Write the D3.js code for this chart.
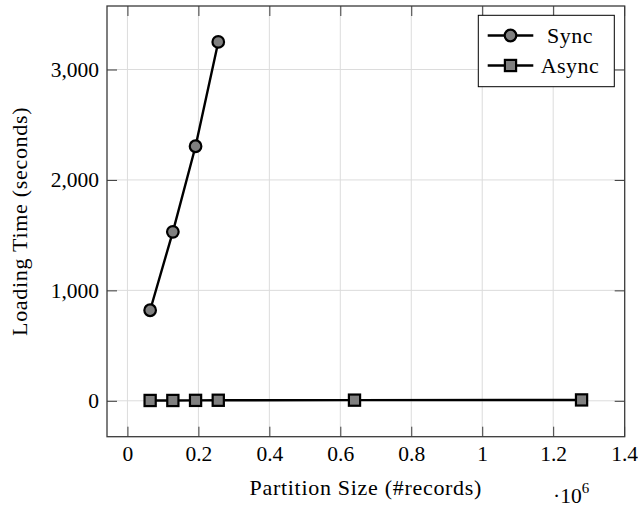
<!DOCTYPE html>
<html>
<head>
<meta charset="utf-8">
<script src="https://cdn.jsdelivr.net/npm/d3@7"></script>
<style>
  html, body { margin: 0; padding: 0; background: #fff; }
  svg { display: block; }
  text { font-family: "Liberation Serif", "DejaVu Serif", serif; fill: #000; }
</style>
</head>
<body>
<svg id="chart" width="638" height="508"></svg>
<script>
// Partition sizes (records) and loading times (seconds)
const syncSizes = [64000, 128000, 192000, 256000];
const syncTimes = [820, 1530, 2305, 3250];
const asyncSizes = [64000, 128000, 192000, 256000, 640000, 1280000];
const asyncTimes = [3, 3, 4, 5, 6, 8];

const xTicks = [0, 200000, 400000, 600000, 800000, 1000000, 1200000, 1400000];
const yTicks = [0, 1000, 2000, 3000];
const seriesNames = ["Sync", "Async"];
const xTitle = "Partition Size (#records)";
const yTitle = "Loading Time (seconds)";

const svg = d3.select("#chart");
const plot = { left: 107, right: 624.7, top: 6, bottom: 436.7 };

const x = d3.scaleLinear().domain([-57600, 1401600]).range([plot.left, plot.right]);
const y = d3.scaleLinear().domain([-325, 3575]).range([plot.bottom, plot.top]);

const fmtX = d => d3.format("~g")(d / 1e6);
const fmtY = d3.format(",");

const FONT = "Liberation Serif";
const tickFont = 21.5;
const titleFont = 22;

// grid
const grid = svg.append("g").attr("stroke", "#dcdcdc").attr("stroke-width", 1);
grid.selectAll("line.vx").data(xTicks.filter(t => x(t) < plot.right - 1)).join("line")
  .attr("x1", d => x(d)).attr("x2", d => x(d))
  .attr("y1", plot.top).attr("y2", plot.bottom);
grid.selectAll("line.hy").data(yTicks).join("line")
  .attr("y1", d => y(d)).attr("y2", d => y(d))
  .attr("x1", plot.left).attr("x2", plot.right);

// axes with inward ticks on all four sides
const tickLen = 10;
const axisColor = "#3a3a3a";
function styleAxis(g) {
  g.select(".domain").remove();
  g.selectAll(".tick line").attr("stroke", axisColor).attr("stroke-width", 1);
  g.selectAll(".tick text").attr("font-size", tickFont).attr("font-family", FONT);
}
svg.append("g").attr("transform", `translate(0,${plot.bottom})`)
  .call(d3.axisBottom(x).tickValues(xTicks).tickFormat(fmtX).tickSizeInner(-tickLen).tickPadding(9))
  .call(styleAxis);
svg.append("g").attr("transform", `translate(0,${plot.top})`)
  .call(d3.axisTop(x).tickValues(xTicks).tickFormat("").tickSizeInner(-tickLen))
  .call(styleAxis);
svg.append("g").attr("transform", `translate(${plot.left},0)`)
  .call(d3.axisLeft(y).tickValues(yTicks).tickFormat(fmtY).tickSizeInner(-tickLen).tickPadding(8))
  .call(styleAxis);
svg.append("g").attr("transform", `translate(${plot.right},0)`)
  .call(d3.axisRight(y).tickValues(yTicks).tickFormat("").tickSizeInner(-tickLen))
  .call(styleAxis);

svg.append("rect")
  .attr("x", plot.left).attr("y", plot.top)
  .attr("width", plot.right - plot.left).attr("height", plot.bottom - plot.top)
  .attr("fill", "none").attr("stroke", axisColor).attr("stroke-width", 1.3);

// series
const line = d3.line().x(d => x(d[0])).y(d => y(d[1]));
const syncData = d3.zip(syncSizes, syncTimes);
const asyncData = d3.zip(asyncSizes, asyncTimes);

const markR = 5.8, markHalf = 5.6, markStroke = 2.2, lineW = 2.4;

function drawSeries(data, shape) {
  svg.append("path").datum(data).attr("d", line)
    .attr("fill", "none").attr("stroke", "#000").attr("stroke-width", lineW);
  const g = svg.append("g");
  if (shape === "circle") {
    g.selectAll("circle").data(data).join("circle")
      .attr("cx", d => x(d[0])).attr("cy", d => y(d[1])).attr("r", markR)
      .attr("fill", "#808080").attr("stroke", "#000").attr("stroke-width", markStroke);
  } else {
    g.selectAll("rect").data(data).join("rect")
      .attr("x", d => x(d[0]) - markHalf).attr("y", d => y(d[1]) - markHalf)
      .attr("width", 2 * markHalf).attr("height", 2 * markHalf)
      .attr("fill", "#808080").attr("stroke", "#000").attr("stroke-width", markStroke);
  }
}
drawSeries(syncData, "circle");
drawSeries(asyncData, "square");

// axis titles
svg.append("text").attr("x", (plot.left + plot.right) / 2).attr("y", 495)
  .attr("text-anchor", "middle").attr("font-size", titleFont)
  .attr("letter-spacing", 0.7).text(xTitle);
svg.append("text").attr("transform", `translate(27,${(plot.top + plot.bottom) / 2}) rotate(-90)`)
  .attr("text-anchor", "middle").attr("font-size", titleFont)
  .attr("letter-spacing", 0.7).text(yTitle);

// scale factor note for the x axis
const sci = svg.append("text").attr("x", 553).attr("y", 503).attr("font-size", tickFont);
sci.append("tspan").text("·10");
sci.append("tspan").attr("dy", -10).attr("font-size", 15).text("6");

// legend
const legend = svg.append("g");
legend.append("rect").attr("x", 478.3).attr("y", 15.3).attr("width", 136).attr("height", 71.4)
  .attr("fill", "#fff").attr("stroke", "#000").attr("stroke-width", 1);
const rows = [
  { name: seriesNames[0], shape: "circle", cy: 35.5 },
  { name: seriesNames[1], shape: "square", cy: 65.5 }
];
rows.forEach(r => {
  legend.append("line").attr("x1", 487.7).attr("x2", 533.3).attr("y1", r.cy).attr("y2", r.cy)
    .attr("stroke", "#000").attr("stroke-width", lineW);
  if (r.shape === "circle") {
    legend.append("circle").attr("cx", 510.5).attr("cy", r.cy).attr("r", markR)
      .attr("fill", "#808080").attr("stroke", "#000").attr("stroke-width", markStroke);
  } else {
    legend.append("rect").attr("x", 510.5 - markHalf).attr("y", r.cy - markHalf)
      .attr("width", 2 * markHalf).attr("height", 2 * markHalf)
      .attr("fill", "#808080").attr("stroke", "#000").attr("stroke-width", markStroke);
  }
  legend.append("text").attr("x", 570).attr("y", r.cy + 7.5).attr("text-anchor", "middle")
    .attr("font-size", titleFont).attr("letter-spacing", 0.5).text(r.name);
});
</script>
</body>
</html>
